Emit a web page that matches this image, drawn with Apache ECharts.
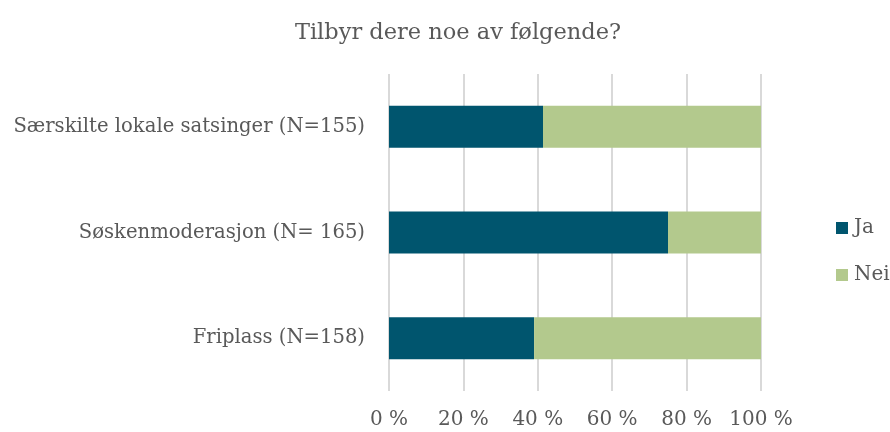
<!DOCTYPE html>
<html>
<head>
<meta charset="utf-8">
<script src="https://cdn.jsdelivr.net/npm/echarts@6/dist/echarts.min.js"></script>
<style>html,body{margin:0;padding:0;background:#fff}#c{width:890px;height:432px}</style>
</head>
<body>
<div id="c"></div>
<script>
const categories = ['Friplass (N=158)', 'Søskenmoderasjon (N= 165)', 'Særskilte lokale satsinger (N=155)'];
const jaValues = [39.0, 75.0, 41.4];
const neiValues = [61.0, 25.0, 58.6];
const xTicks = [0, 20, 40, 60, 80, 100];
const seriesNames = ['Ja', 'Nei'];

const FONT = '"DejaVu Serif", serif';
const TXT = '#595959';
const chart = echarts.init(document.getElementById('c'), null, {renderer: 'canvas'});
chart.setOption({
  animation: false,
  backgroundColor: '#fff',
  title: {
    text: 'Tilbyr dere noe av følgende?',
    left: 453, top: 17, textAlign: 'center',
    textStyle: {fontFamily: FONT, fontSize: 22.5, fontWeight: 'normal', color: TXT}
  },
  legend: {
    orient: 'vertical', left: 836, top: 218, padding: 0,
    itemWidth: 12, itemHeight: 12, itemGap: 27,
    icon: 'rect',
    textStyle: {fontFamily: FONT, fontSize: 20, color: TXT, padding: [0,0,0,1]},
    data: seriesNames
  },
  grid: {left: 389, right: 129, top: 74, bottom: 41, containLabel: false},
  xAxis: {
    type: 'value', min: xTicks[0], max: xTicks[xTicks.length-1], interval: 20,
    axisLine: {show: false}, axisTick: {show: false},
    splitLine: {show: true, lineStyle: {color: '#d9d9d9', width: 2}},
    axisLabel: {formatter: '{value} %', fontFamily: FONT, fontSize: 20, color: TXT, margin: 19}
  },
  yAxis: {
    type: 'category', data: categories,
    axisLine: {show: false}, axisTick: {show: false},
    axisLabel: {fontFamily: FONT, fontSize: 19.6, color: TXT, margin: 24}
  },
  series: [
    {name: seriesNames[0], type: 'bar', stack: 't', data: jaValues, barWidth: 42, itemStyle: {color: '#00556E'}},
    {name: seriesNames[1], type: 'bar', stack: 't', data: neiValues, barWidth: 42, itemStyle: {color: '#B3C98D'}}
  ]
});
</script>
</body>
</html>
